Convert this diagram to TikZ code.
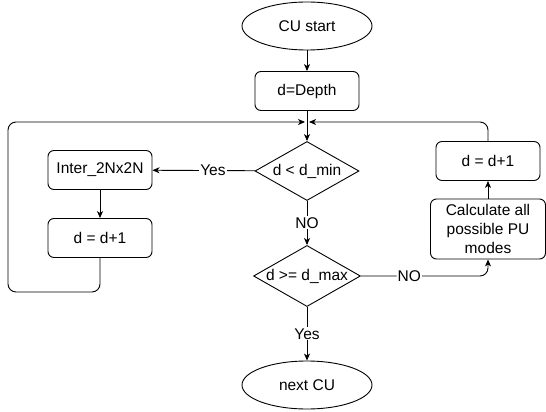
\documentclass[tikz,border=0pt]{standalone}
\usepackage{fontspec}
\setmainfont{Liberation Sans}
\usetikzlibrary{shapes.geometric, arrows.meta, positioning}

\tikzset{
  term/.style={ellipse, draw, minimum width=130pt, minimum height=48pt, inner sep=0pt},
  proc/.style={rectangle, draw, rounded corners=6pt, minimum width=104pt, minimum height=39pt, inner sep=0pt, align=center},
  decision/.style={diamond, draw, aspect=1.75, minimum width=104pt, minimum height=59pt, inner sep=0pt},
  arr/.style={-{Stealth[length=7pt,width=6pt,inset=2pt]}},
  lbl/.style={fill=white, inner sep=1pt},
}

\begin{document}
\begin{tikzpicture}[x=1pt, y=-1pt, font=\fontsize{15.5}{19}\selectfont, line width=0.9pt]
\useasboundingbox (0,0) rectangle (546,412);
\node[term](start) at (307,26) {CU start};
\node[proc](depth) at (307,91) {d=Depth};
\node[decision](dmin) at (307,171) {d < d\_min};
\node[decision](dmax) at (307,276) {d >= d\_max};
\node[term](next) at (307,385) {next CU};
\node[proc](inter) at (100,170) {Inter\_2Nx2N};
\node[proc](incl) at (100,238) {d = d+1};
\node[proc, minimum width=115pt, minimum height=60pt](calc) at (488,229) {Calculate all\\possible PU\\modes};
\node[proc](incr) at (488,161) {d = d+1};
\coordinate(jl) at (305,122);
\coordinate(jr) at (309,122);
\coordinate(loop) at (8,292);

\draw[arr](start)--(depth);
\draw[arr](depth)--(dmin);
\draw[arr](dmin)--node[lbl, pos=0.41]{Yes}(inter);
\draw[arr](inter)--(incl);
\draw[arr](dmin)--node[lbl]{NO}(dmax);
\draw[arr](dmax)--node[lbl]{Yes}(next);
\draw[arr, rounded corners=8pt](dmax.east)-|node[lbl, pos=0.19]{NO}(calc.south);
\draw[arr](calc)--(incr);
\draw[arr, rounded corners=8pt](incr.north)|-(jr);
\draw[arr, rounded corners=8pt](incl.south)|-(loop)|-(jl);
\end{tikzpicture}
\end{document}
